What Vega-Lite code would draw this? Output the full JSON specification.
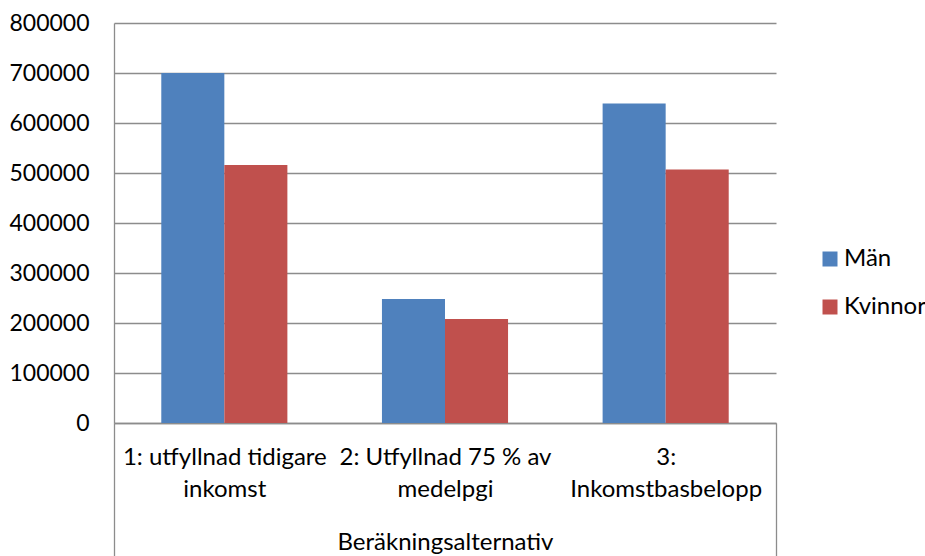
{
  "$schema": "https://vega.github.io/schema/vega-lite/v6.json",
  "autosize": {"type": "none"},
  "padding": {"left": 114, "top": 23, "right": 149, "bottom": 133},
  "width": 662,
  "height": 400,
  "background": "white",
  "config": {
    "font": "Lato",
    "view": {"stroke": null},
    "axis": {"labelFont": "Lato", "titleFont": "Lato", "labelColor": "#000000", "titleColor": "#000000"}
  },
  "data": {
    "values": [
      {"alt": "1: utfyllnad tidigare inkomst", "kon": "Män", "belopp": 700000},
      {"alt": "1: utfyllnad tidigare inkomst", "kon": "Kvinnor", "belopp": 516000},
      {"alt": "2: Utfyllnad 75 % av medelpgi", "kon": "Män", "belopp": 248000},
      {"alt": "2: Utfyllnad 75 % av medelpgi", "kon": "Kvinnor", "belopp": 208000},
      {"alt": "3: Inkomstbasbelopp", "kon": "Män", "belopp": 639000},
      {"alt": "3: Inkomstbasbelopp", "kon": "Kvinnor", "belopp": 507000}
    ]
  },
  "mark": {"type": "bar"},
  "encoding": {
    "x": {
      "field": "alt",
      "type": "nominal",
      "sort": null,
      "scale": {"paddingInner": 0, "paddingOuter": 0},
      "axis": {
        "title": "Beräkningsalternativ",
        "titleFontSize": 24,
        "titleFontWeight": "normal",
        "titleBaseline": "alphabetic",
        "titleY": 126,
        "labelAngle": 0,
        "labelFontSize": 24,
        "labelLineHeight": 32,
        "labelPadding": -111,
        "labelBaseline": "top",
        "labelLimit": 0,
        "labelOverlap": false,
        "labelExpr": "datum.value == '1: utfyllnad tidigare inkomst' ? ['1: utfyllnad tidigare', 'inkomst'] : datum.value == '2: Utfyllnad 75 % av medelpgi' ? ['2: Utfyllnad 75 % av', 'medelpgi'] : datum.value == '3: Inkomstbasbelopp' ? ['3:', 'Inkomstbasbelopp'] : ''",
        "domainColor": "#8c8c8c",
        "domainWidth": 1.3,
        "tickBand": "extent",
        "tickSize": 133,
        "tickWidth": 1.3,
        "tickColor": {"condition": {"test": "datum.value == '1: utfyllnad tidigare inkomst' || datum.value == '2: Utfyllnad 75 % av medelpgi'", "value": "transparent"}, "value": "#8c8c8c"},
        "grid": false
      }
    },
    "xOffset": {
      "field": "kon",
      "type": "nominal",
      "sort": ["Män", "Kvinnor"],
      "scale": {"paddingInner": 0, "paddingOuter": 0.75}
    },
    "y": {
      "field": "belopp",
      "type": "quantitative",
      "scale": {"domain": [0, 800000]},
      "axis": {
        "title": null,
        "values": [0, 100000, 200000, 300000, 400000, 500000, 600000, 700000, 800000],
        "format": "d",
        "labelFontSize": 23,
        "labelPadding": 25,
        "ticks": false,
        "domainColor": "#8c8c8c",
        "domainWidth": 1.3,
        "gridColor": "#8c8c8c",
        "gridWidth": 1.3
      }
    },
    "color": {
      "field": "kon",
      "type": "nominal",
      "sort": ["Män", "Kvinnor"],
      "scale": {"domain": ["Män", "Kvinnor"], "range": ["#4F81BD", "#C0504D"]},
      "legend": {
        "title": null,
        "orient": "none",
        "legendX": 704,
        "legendY": 224,
        "padding": 0,
        "symbolType": "square",
        "symbolSize": 225,
        "symbolStrokeWidth": 0,
        "labelFontSize": 24,
        "labelOffset": 2,
        "rowPadding": 24,
        "labelColor": "#000000"
      }
    }
  }
}
